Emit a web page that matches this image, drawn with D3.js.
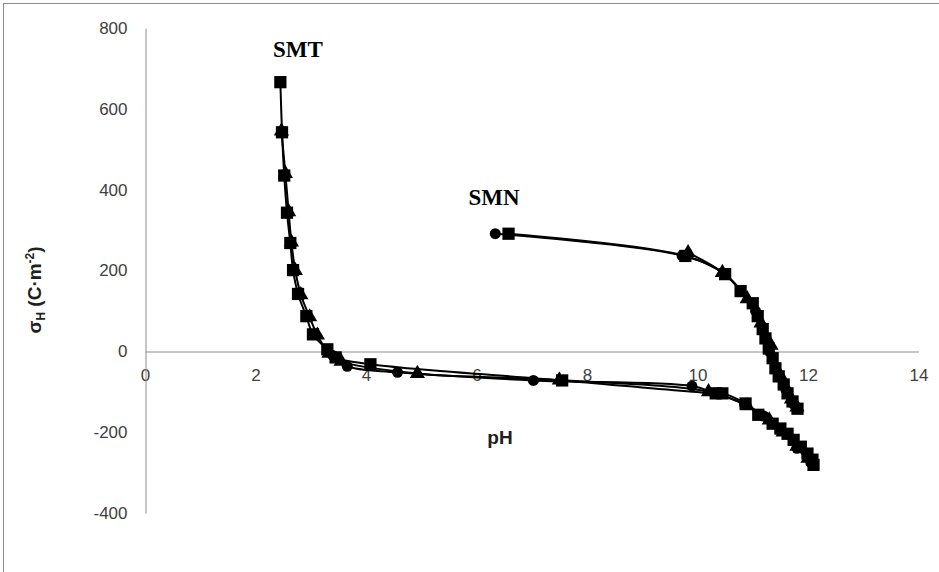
<!DOCTYPE html>
<html>
<head>
<meta charset="utf-8">
<script src="https://cdn.jsdelivr.net/npm/d3@7"></script>
<style>
  html, body { margin: 0; padding: 0; background: #fff; }
  svg { display: block; }
</style>
</head>
<body>
<svg id="chart" width="939" height="572"></svg>
<script>
// Surface charge density versus pH for SMT and SMN (three titrations each)
const xTicks = [0, 2, 4, 6, 8, 10, 12, 14];
const yTicks = [-400, -200, 0, 200, 400, 600, 800];

// SMT — square series
const smtSquarePH = [2.45, 2.48, 2.52, 2.57, 2.63, 2.68, 2.77, 2.92, 3.04, 3.30, 3.45, 4.08, 7.55, 10.33, 10.45, 10.87, 11.10, 11.36, 11.50, 11.63, 11.74, 11.87, 11.99, 12.08, 12.10];
const smtSquareSigma = [666, 542, 435, 343, 268, 201, 142, 87, 42, 5, -15, -32, -72, -104, -104, -129, -157, -179, -191, -204, -219, -236, -253, -268, -281];
// SMT — triangle series
const smtTrianglePH = [2.47, 2.54, 2.60, 2.65, 2.72, 2.82, 2.98, 3.12, 3.33, 3.55, 4.93, 7.50, 10.20, 10.90, 11.30, 11.55, 11.80, 12.00];
const smtTriangleSigma = [545, 440, 345, 270, 200, 140, 85, 40, -5, -25, -55, -71, -100, -135, -170, -200, -235, -265];
// SMT — circle series
const smtCirclePH = [3.40, 3.66, 4.57, 7.03, 9.90, 10.30, 10.85, 11.20, 11.50, 11.80, 12.05];
const smtCircleSigma = [-10, -37, -52, -72, -86, -103, -130, -160, -195, -240, -275];

// SMN — square series
const smnSquarePH = [6.58, 9.78, 10.50, 10.78, 11.00, 11.09, 11.18, 11.23, 11.29, 11.36, 11.41, 11.47, 11.56, 11.63, 11.72, 11.81];
const smnSquareSigma = [291, 236, 191, 149, 119, 87, 55, 32, 7, -17, -42, -62, -82, -104, -124, -142];
// SMN — triangle series
const smnTrianglePH = [9.83, 10.45, 10.90, 11.15, 11.33, 11.50, 11.70, 11.80];
const smnTriangleSigma = [244, 195, 130, 70, 15, -60, -118, -138];
// SMN — circle series
const smnCirclePH = [6.34, 9.72, 10.48, 11.05, 11.30, 11.60, 11.75];
const smnCircleSigma = [291, 237, 192, 100, 0, -95, -132];

const series = [
  { ph: smtSquarePH, sigma: smtSquareSigma, shape: d3.symbolSquare, size: 150 },
  { ph: smtTrianglePH, sigma: smtTriangleSigma, shape: d3.symbolTriangle, size: 100 },
  { ph: smtCirclePH, sigma: smtCircleSigma, shape: d3.symbolCircle, size: 95 },
  { ph: smnSquarePH, sigma: smnSquareSigma, shape: d3.symbolSquare, size: 150 },
  { ph: smnTrianglePH, sigma: smnTriangleSigma, shape: d3.symbolTriangle, size: 100 },
  { ph: smnCirclePH, sigma: smnCircleSigma, shape: d3.symbolCircle, size: 95 }
];

const svg = d3.select("#chart");

// chart frame
svg.append("rect")
  .attr("x", 3.5).attr("y", 3.5)
  .attr("width", 940).attr("height", 580)
  .attr("fill", "none").attr("stroke", "#8c8c8c").attr("stroke-width", 1);

const x = d3.scaleLinear().domain([0, 14]).range([145, 918.5]);
const y = d3.scaleLinear().domain([-400, 800]).range([513, 28]);

const axisColor = "#8c8c8c";
const tickFont = "Liberation Sans, Arial, sans-serif";
const plainNumber = d => String(d);

// horizontal axis through sigma = 0
const xAxis = svg.append("g")
  .attr("transform", `translate(0,${Math.round(y(0)) + 0.5})`)
  .call(d3.axisBottom(x).tickValues(xTicks).tickSize(0).tickPadding(17).tickFormat(plainNumber));
xAxis.select(".domain").attr("stroke", axisColor);
xAxis.selectAll("text").attr("font-family", tickFont).attr("font-size", 17).attr("fill", "#404040");

// vertical axis through pH = 0
const yAxis = svg.append("g")
  .attr("transform", `translate(${Math.round(x(0)) + 0.5},0)`)
  .call(d3.axisLeft(y).tickValues(yTicks).tickSize(0).tickPadding(18).tickFormat(plainNumber));
yAxis.select(".domain").attr("stroke", axisColor);
yAxis.selectAll("text").attr("font-family", tickFont).attr("font-size", 17).attr("fill", "#404040");

// curves and markers
const line = d3.line()
  .x(d => x(d[0]))
  .y(d => y(d[1]))
  .curve(d3.curveCatmullRom.alpha(0.5));

series.forEach(s => {
  const pts = s.ph.map((p, i) => [p, s.sigma[i]]);
  svg.append("path")
    .attr("d", line(pts))
    .attr("fill", "none")
    .attr("stroke", "#000")
    .attr("stroke-width", 2);
  svg.append("g").selectAll("path")
    .data(pts)
    .join("path")
    .attr("transform", d => `translate(${x(d[0])},${y(d[1])})`)
    .attr("d", d3.symbol().type(s.shape).size(s.size))
    .attr("fill", "#000");
});

// curve labels
svg.append("text")
  .attr("x", 298).attr("y", 57)
  .attr("text-anchor", "middle")
  .attr("font-family", "Liberation Serif, Times New Roman, serif")
  .attr("font-weight", "bold").attr("font-size", 23)
  .text("SMT");
svg.append("text")
  .attr("x", 494).attr("y", 205)
  .attr("text-anchor", "middle")
  .attr("font-family", "Liberation Serif, Times New Roman, serif")
  .attr("font-weight", "bold").attr("font-size", 23)
  .text("SMN");

// axis titles
svg.append("text")
  .attr("x", 500).attr("y", 444)
  .attr("text-anchor", "middle")
  .attr("font-family", tickFont)
  .attr("font-weight", "bold").attr("font-size", 19)
  .attr("fill", "#202020")
  .text("pH");

const yTitle = svg.append("text")
  .attr("transform", "translate(41,290) rotate(-90)")
  .attr("text-anchor", "middle")
  .attr("font-family", tickFont)
  .attr("font-weight", "bold").attr("font-size", 19)
  .attr("fill", "#202020");
yTitle.append("tspan").text("σ");
yTitle.append("tspan").attr("font-size", 12).attr("dy", 4).text("H");
yTitle.append("tspan").attr("dy", -4).text(" (C·m");
yTitle.append("tspan").attr("font-size", 12).attr("dy", -7).text("-2");
yTitle.append("tspan").attr("dy", 7).text(")");
</script>
</body>
</html>
